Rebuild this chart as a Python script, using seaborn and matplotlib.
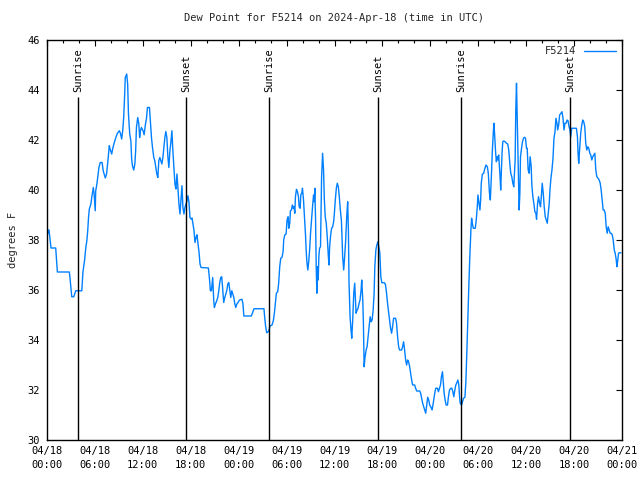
import matplotlib
matplotlib.use('Agg')
import matplotlib.pyplot as plt
import matplotlib.dates as mdates
import seaborn as sns
import pandas as pd

start = '2024-04-18 00:00'
title = 'Dew Point for F5214 on 2024-Apr-18 (time in UTC)'
series_name = 'F5214'

# hours since 2024-04-18 00:00 UTC
hours = [
    0.0, 0.25, 0.5, 1.09, 1.3, 2.8, 2.89, 3.1, 3.35, 3.6, 4.36, 4.5, 4.7, 4.86, 4.99,
    5.1, 5.2, 5.3, 5.5, 5.6, 5.8, 5.9, 6.04, 6.1, 6.25, 6.4, 6.5, 6.67, 6.9, 7.04,
    7.3, 7.46, 7.63, 7.8, 7.9, 8.1, 8.26, 8.43, 8.6, 8.8, 9.06, 9.2, 9.35, 9.48, 9.6,
    9.73, 9.8, 9.98, 10.1, 10.2, 10.36, 10.5, 10.6, 10.7, 10.86, 11.0, 11.1, 11.2,
    11.36, 11.5, 11.6, 11.7,
    11.82, 12.03, 12.16, 12.33, 12.45, 12.58, 12.83, 12.96, 13.08, 13.21, 13.37, 13.5,
    13.63, 13.75, 13.88, 14.0, 14.13, 14.25, 14.38, 14.51, 14.63, 14.76, 14.88, 15.01,
    15.14, 15.26, 15.39, 15.51, 15.64, 15.76, 15.89, 16.02, 16.14, 16.27, 16.39, 16.52,
    16.65, 16.77, 16.9, 17.02, 17.15, 17.27, 17.4, 17.53, 17.65, 17.78, 17.9, 18.03,
    18.16, 18.28, 18.41, 18.53, 18.66, 18.78, 18.91, 19.04, 19.16, 19.29, 20.21, 20.33,
    20.46, 20.59, 20.67, 20.75, 20.88, 20.96, 21.09, 21.26, 21.38, 21.51, 21.63, 21.76,
    21.88, 22.01, 22.13, 22.26, 22.39, 22.51, 22.64, 22.76, 22.89, 23.01, 23.14, 23.27,
    23.39, 23.52, 23.64, 23.77,
    23.9, 24.1, 24.4, 24.53, 24.65, 25.58, 25.74, 25.91, 27.17, 27.25, 27.38, 27.51,
    27.67, 27.8, 27.92, 28.18, 28.34, 28.47, 28.6, 28.72, 28.89, 29.01, 29.14, 29.27,
    29.43, 29.56, 29.64, 29.77, 29.94, 30.06, 30.19, 30.27, 30.4, 30.48, 30.61, 30.73,
    30.82, 30.94, 31.03, 31.11, 31.24, 31.36, 31.49, 31.57, 31.7, 31.78, 31.91, 31.99,
    32.12, 32.24, 32.37, 32.45, 32.54, 32.66, 32.79, 32.91, 33.0, 33.12, 33.25, 33.38,
    33.46, 33.54, 33.63, 33.71, 33.79, 33.88, 33.96, 34.04, 34.13, 34.25, 34.38, 34.51,
    34.63, 34.72, 34.84, 34.97, 35.09, 35.22, 35.31, 35.39, 35.52, 35.64, 35.77, 35.89,
    35.97, 36.1, 36.23, 36.35, 36.48, 36.6, 36.73, 36.86, 36.94, 37.02, 37.15, 37.27,
    37.4, 37.53, 37.65, 37.74, 37.82, 37.95, 38.07, 38.16, 38.28, 38.41, 38.53, 38.62,
    38.7, 38.83, 38.95, 39.08, 39.2, 39.33, 39.41, 39.54, 39.62, 39.71, 39.83, 39.96,
    40.08, 40.21, 40.34, 40.46, 40.59, 40.71, 40.84, 40.96, 41.05, 41.18, 41.3, 41.43,
    41.55, 41.68, 41.8, 41.93, 42.26, 42.39, 42.52, 42.64, 42.77, 42.89, 43.02, 43.15,
    43.27, 43.4, 43.65, 43.77, 43.9, 44.03, 44.15, 44.4, 44.53, 44.65, 44.78, 44.91,
    45.03, 45.16, 45.28, 45.41, 45.53, 45.66, 45.79, 46.04, 46.16, 46.29, 46.67, 46.79,
    46.92, 47.04, 47.17, 47.3, 47.42, 47.55, 47.67, 47.8, 47.92,
    48.05, 48.22, 48.39, 48.55, 48.68, 48.89, 49.01, 49.14, 49.27, 49.39, 49.52, 49.6,
    49.73, 49.85, 49.98, 50.15, 50.27, 50.4, 50.57, 50.69, 50.82, 50.94, 51.07, 51.19,
    51.32, 51.45, 51.57, 51.66, 51.74, 51.91, 52.03, 52.16, 52.33, 52.45, 52.58, 52.7,
    52.83, 52.96, 53.08, 53.17, 53.25, 53.38, 53.63, 53.75, 53.88, 53.96, 54.09, 54.21,
    54.3, 54.38, 54.51, 54.68, 54.84, 54.97, 55.14, 55.26, 55.39, 55.51, 55.64, 55.77,
    55.89, 55.97, 56.06, 56.18, 56.27, 56.35, 56.44, 56.56, 56.65, 56.73, 56.81, 56.9,
    56.98, 57.07, 57.19, 57.36, 57.53, 57.69, 57.82, 57.95, 58.07, 58.2, 58.33, 58.45,
    58.53, 58.62, 58.7, 58.79, 58.87, 58.95, 59.04, 59.12, 59.21, 59.29, 59.42, 59.54,
    59.67, 59.79, 59.92, 60.04,
    60.13, 60.25, 60.38, 60.5, 60.63, 60.71, 60.84, 60.96, 61.09, 61.22, 61.3, 61.43,
    61.55, 61.68, 61.8, 61.93, 62.01, 62.14, 62.26, 62.39, 62.52, 62.64, 62.77, 62.89,
    62.98, 63.1, 63.23, 63.36, 63.48, 63.61, 63.73, 63.86, 63.94, 64.07, 64.19, 64.36,
    64.49, 64.61, 64.74, 64.86, 64.99, 65.12, 65.24, 65.37, 65.49, 65.58, 65.7, 66.29,
    66.42, 66.5, 66.58, 66.71, 66.83, 66.96, 67.09, 67.21, 67.34, 67.46, 67.59, 67.72,
    67.84, 67.97, 68.09, 68.22, 68.34, 68.47, 68.6, 68.72, 68.85, 69.01, 69.14, 69.27,
    69.39, 69.52, 69.64, 69.77, 69.9, 70.02, 70.15, 70.27, 70.4, 70.52, 70.65, 70.78,
    70.9, 71.03, 71.15, 71.28, 71.36, 71.45, 71.57, 71.7, 71.87,
]

# dew point, degrees F
dewpoint = [
    38.17, 38.41, 37.68, 37.68, 36.72, 36.72, 36.44, 35.73, 35.73, 35.97, 35.97, 36.72,
    37.17, 37.7, 37.97, 38.37, 38.9, 39.24, 39.44, 39.7, 40.1, 39.84, 39.17, 39.97,
    40.24, 40.64, 40.9, 41.1, 41.1, 40.77, 40.48, 40.64, 41.17, 41.77, 41.64, 41.44,
    41.7, 41.9, 42.08, 42.26, 42.37, 42.26, 42.04, 42.37, 42.9, 43.84, 44.5, 44.64,
    44.24, 43.04, 42.24, 41.97, 41.24, 40.97, 40.8, 41.04, 41.57, 42.5, 42.9, 42.64,
    42.1, 42.37,
    42.5, 42.37, 42.21, 42.64, 42.84, 43.3, 43.3, 42.64, 42.1, 41.7, 41.3, 41.17, 40.9,
    40.64, 40.5, 41.17, 41.3, 41.17, 41.04, 41.3, 41.7, 42.1, 42.34, 42.1, 41.3, 40.9,
    41.57, 41.9, 42.37, 41.57, 40.9, 40.24, 40.04, 40.64, 40.1, 39.44, 39.04, 39.57,
    40.17, 39.3, 39.04, 39.3, 39.44, 39.57, 39.77, 39.5, 38.9, 38.84, 38.88, 38.64,
    38.37, 37.9, 38.1, 38.21, 37.84, 37.5, 37.04, 36.9, 36.88, 36.5, 35.97, 35.97,
    36.24, 36.5, 35.57, 35.3, 35.44, 35.57, 35.7, 35.97, 36.3, 36.5, 36.53, 35.97,
    35.5, 35.7, 35.84, 35.97, 36.24, 36.3, 35.97, 35.7, 35.97, 35.84, 35.7, 35.44,
    35.3, 35.44,
    35.49, 35.6, 35.63, 35.47, 34.96, 34.96, 35.09, 35.25, 35.25, 34.93, 34.53, 34.29,
    34.32, 34.4, 34.56, 34.6, 34.77, 35.07, 35.47, 35.87, 35.93, 36.27, 36.93, 37.27,
    37.31, 37.53, 38.0, 38.2, 38.24, 38.8, 38.93, 38.47, 38.67, 39.17, 39.2, 39.4,
    39.27, 39.33, 39.07, 39.73, 40.03, 39.93, 39.73, 39.33, 39.27, 39.8, 39.89, 40.07,
    39.6, 38.93, 38.2, 37.6, 37.13, 36.8, 37.2, 37.73, 38.27, 38.8, 39.33, 39.8, 39.53,
    40.07, 38.8, 36.93, 35.87, 36.93, 36.4, 37.33, 37.67, 37.73, 40.47, 41.47, 40.8,
    39.67, 38.93, 38.67, 38.13, 37.4, 37.0, 37.73, 38.2, 38.47, 38.53, 38.73,
    39.0, 39.6, 40.07, 40.27, 40.13, 39.73, 39.2, 38.8, 38.13, 37.33, 36.8, 37.33,
    38.0, 38.93, 39.53, 38.4, 36.27, 34.93, 34.4, 34.07, 34.8, 35.87, 36.27, 35.6,
    35.07, 35.2, 35.27, 35.47, 35.6, 36.0, 36.4, 35.6, 34.67, 32.93, 33.33, 33.6,
    33.73, 34.13, 34.53, 34.93, 34.73, 34.8, 35.2, 35.87, 36.93, 37.6, 37.8, 37.93,
    37.73, 37.47, 36.53, 36.29, 36.29, 36.2, 35.87, 35.47, 35.13, 34.8, 34.47, 34.27,
    34.53, 34.87, 34.87, 34.67, 34.13, 33.73, 33.6, 33.6, 33.73, 33.93, 33.6, 33.2,
    33.0, 33.2, 33.13, 32.93, 32.67, 32.4, 32.2, 32.2, 32.07, 31.96, 31.96, 31.87,
    31.67, 31.47, 31.33, 31.2, 31.07, 31.4, 31.71, 31.6, 31.4,
    31.33, 31.2, 31.53, 31.87, 32.07, 32.07, 31.93, 32.07, 32.2, 32.53, 32.73, 32.4,
    31.87, 31.6, 31.4, 31.4, 31.73, 32.0, 32.07, 32.07, 31.93, 31.73, 32.0, 32.2,
    32.29, 32.4, 32.2, 31.73, 31.47, 31.4, 31.53, 31.67, 31.71, 32.33, 33.6, 34.93,
    36.27, 37.47, 38.4, 38.87, 38.67, 38.47, 38.47, 38.8, 39.33, 39.8, 39.47, 39.2,
    39.6, 40.27, 40.63, 40.67, 40.87, 41.0, 40.93, 40.67, 39.93, 39.6, 40.53, 41.6,
    42.33, 42.67, 42.13, 41.47, 41.13, 41.33, 41.2, 41.4, 40.93, 40.53, 40.0, 40.8,
    41.47, 41.93, 41.96, 41.93, 41.87, 41.84, 41.6, 41.07, 40.67, 40.53, 40.27, 40.13,
    40.67, 41.2, 43.2, 44.27, 43.07, 42.0, 40.53, 39.2, 39.87, 41.33, 41.67, 41.93,
    42.07, 42.11, 42.07, 41.67,
    41.67, 40.8, 40.67, 41.33, 40.93, 40.2, 39.73, 39.47, 39.13, 39.07, 38.83, 39.47,
    39.73, 39.47, 39.33, 39.87, 40.27, 39.87, 39.33, 38.93, 38.8, 38.67, 39.07, 39.47,
    40.0, 40.47, 40.8, 41.27, 42.07, 42.33, 42.87, 42.67, 42.4, 42.6, 43.0, 43.07,
    43.13, 42.87, 42.4, 42.67, 42.67, 42.8, 42.77, 42.53, 42.4, 42.13, 42.47, 42.47,
    42.13, 41.47, 41.07, 41.73, 42.27, 42.6, 42.8, 42.73, 42.53, 41.87, 41.6, 41.73,
    41.67, 41.47, 41.4, 41.2, 41.33, 41.4, 41.47, 40.8, 40.53, 40.47, 40.4, 40.27,
    40.0, 39.6, 39.2, 39.2, 39.07, 38.53, 38.27, 38.53, 38.4, 38.27, 38.27, 38.2,
    38.0, 37.6, 37.47, 37.2, 36.93, 37.13, 37.47, 37.49, 37.49,
]

sun_event_hours = [3.92, 17.43, 27.82, 41.46, 51.85, 65.49]
sun_event_labels = ['Sunrise', 'Sunset', 'Sunrise', 'Sunset', 'Sunrise', 'Sunset']
sun_line_top = 43.7
y_ticks = [30, 32, 34, 36, 38, 40, 42, 44, 46]

sns.set_theme(style='white')
plt.rcParams['font.family'] = ['DejaVu Sans Mono']
plt.rcParams['axes.edgecolor'] = 'black'
plt.rcParams['axes.linewidth'] = 1.0
FS = 7.5

t0 = pd.Timestamp(start)
df = pd.DataFrame({
    'time': t0 + pd.to_timedelta(hours, unit='h'),
    'dewpoint': dewpoint,
})
sun_times = t0 + pd.to_timedelta(sun_event_hours, unit='h')

fig = plt.figure(figsize=(6.4, 4.8), dpi=100)
ax = fig.add_axes([47 / 640, 40 / 480, 575 / 640, 400 / 480])

sns.lineplot(data=df, x='time', y='dewpoint', ax=ax, color='#0080ff',
             linewidth=1.0, sort=False, estimator=None, label=series_name)

ax.vlines(sun_times, 30, sun_line_top, colors='black', linewidth=1.0)
for t, lab in zip(sun_times, sun_event_labels):
    ax.text(t, sun_line_top + 0.2, lab, rotation=90, ha='center', va='bottom',
            fontsize=FS, color='black')

ax.set_xlim(t0, t0 + pd.Timedelta(hours=72))
ax.set_ylim(30, 46)
ax.set_yticks(y_ticks)
ax.xaxis.set_major_locator(mdates.HourLocator(byhour=[0, 6, 12, 18]))
ax.xaxis.set_minor_locator(mdates.HourLocator(interval=2))
ax.xaxis.set_major_formatter(mdates.DateFormatter('%m/%d\n%H:%M'))

ax.tick_params(which='both', direction='in', top=True, right=True,
               colors='black', labelsize=FS)
ax.tick_params(which='major', length=4.5, width=0.8, pad=4)
ax.tick_params(which='minor', length=2.5, width=0.8)
ax.tick_params(axis='y', pad=5)
for lab in ax.get_xticklabels():
    lab.set_linespacing(1.5)

ax.set_xlabel('')
ax.set_ylabel('degrees F', fontsize=FS, labelpad=7)
ax.set_title(title, fontsize=FS, pad=14)
for s in ax.spines.values():
    s.set_visible(True)
    s.set_color('black')

ax.legend(loc='upper right', frameon=False, markerfirst=False, fontsize=FS,
          handlelength=3.0, borderaxespad=0.2, handletextpad=0.8)
ax.grid(False)

fig.savefig('out.png', dpi=100)
